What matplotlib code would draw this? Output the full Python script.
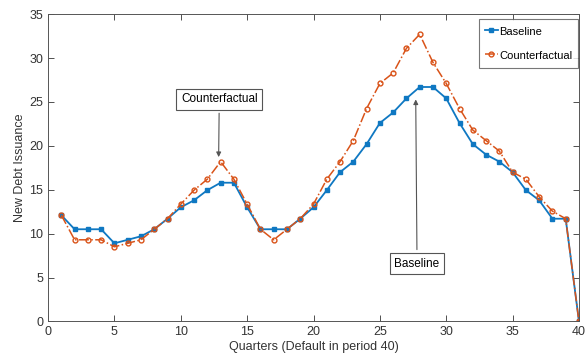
import matplotlib
matplotlib.use("Agg")
import matplotlib.pyplot as plt

plt.rcParams['font.family'] = ['Liberation Sans', 'DejaVu Sans']

quarters = list(range(1, 41))
baseline = [12.1, 10.5, 10.5, 10.5, 8.9, 9.3, 9.7, 10.5, 11.7, 13.0,
            13.8, 14.95, 15.8, 15.8, 13.0, 10.5, 10.5, 10.5, 11.7, 13.0,
            14.95, 17.0, 18.2, 20.2, 22.6, 23.8, 25.4, 26.7, 26.7, 25.4,
            22.6, 20.2, 19.0, 18.2, 17.0, 14.95, 13.8, 11.7, 11.7, 0.0]
counterfactual = [12.1, 9.3, 9.3, 9.3, 8.5, 8.9, 9.3, 10.5, 11.7, 13.36,
                  14.95, 16.2, 18.2, 16.2, 13.36, 10.5, 9.3, 10.5, 11.7, 13.36,
                  16.2, 18.2, 20.6, 24.25, 27.1, 28.3, 31.1, 32.7, 29.5, 27.1,
                  24.25, 21.8, 20.6, 19.4, 17.0, 16.2, 14.2, 12.56, 11.7, 0.0]

blue = '#0F78C2'
orange = '#D95319'
grey = '#333333'

fig = plt.figure(figsize=(5.86, 3.62), dpi=100)
ax = fig.add_axes([0.082, 0.112, 0.906, 0.849])

ax.plot(quarters, baseline, '-', color=blue, lw=1.3, marker='s', ms=3,
        mfc=blue, mec=blue, label='Baseline')
ax.plot(quarters, counterfactual, '-.', color=orange, lw=1.1, marker='o', ms=3.5,
        mfc='none', mec=orange, mew=1.0, label='Counterfactual')

ax.set_xlim(0, 40)
ax.set_ylim(0, 35)
ax.set_xticks(range(0, 41, 5))
ax.set_yticks(range(0, 36, 5))
ax.tick_params(direction='in', top=True, right=True, labelsize=9,
               colors=grey, length=4, width=0.6)
for s in ax.spines.values():
    s.set_color('#555555')
    s.set_linewidth(0.7)

ax.set_xlabel('Quarters (Default in period 40)', fontsize=9, color=grey, labelpad=2)
ax.set_ylabel('New Debt Issuance', fontsize=9, color=grey, labelpad=2)

box = dict(boxstyle='square,pad=0.4', fc='white', ec='#555555', lw=0.8)
arrow = dict(arrowstyle='-|>', color='#555555', lw=0.8, mutation_scale=7)
ax.annotate('Counterfactual', xy=(12.85, 18.4), xytext=(12.9, 25.3),
            ha='center', va='center', fontsize=8.5, color='black',
            bbox=box, arrowprops=arrow)
ax.annotate('Baseline', xy=(27.7, 25.6), xytext=(27.8, 6.6),
            ha='center', va='center', fontsize=8.5, color='black',
            bbox=box, arrowprops=arrow)

leg = ax.legend(loc='upper right', bbox_to_anchor=(0.998, 0.984), fontsize=8,
                frameon=True, fancybox=False, edgecolor='#555555',
                handlelength=1.2, handleheight=1.6, handletextpad=0.1,
                labelspacing=0.85, borderpad=0.5, borderaxespad=0)
leg.get_frame().set_linewidth(0.8)

fig.savefig('out.png', dpi=100)
